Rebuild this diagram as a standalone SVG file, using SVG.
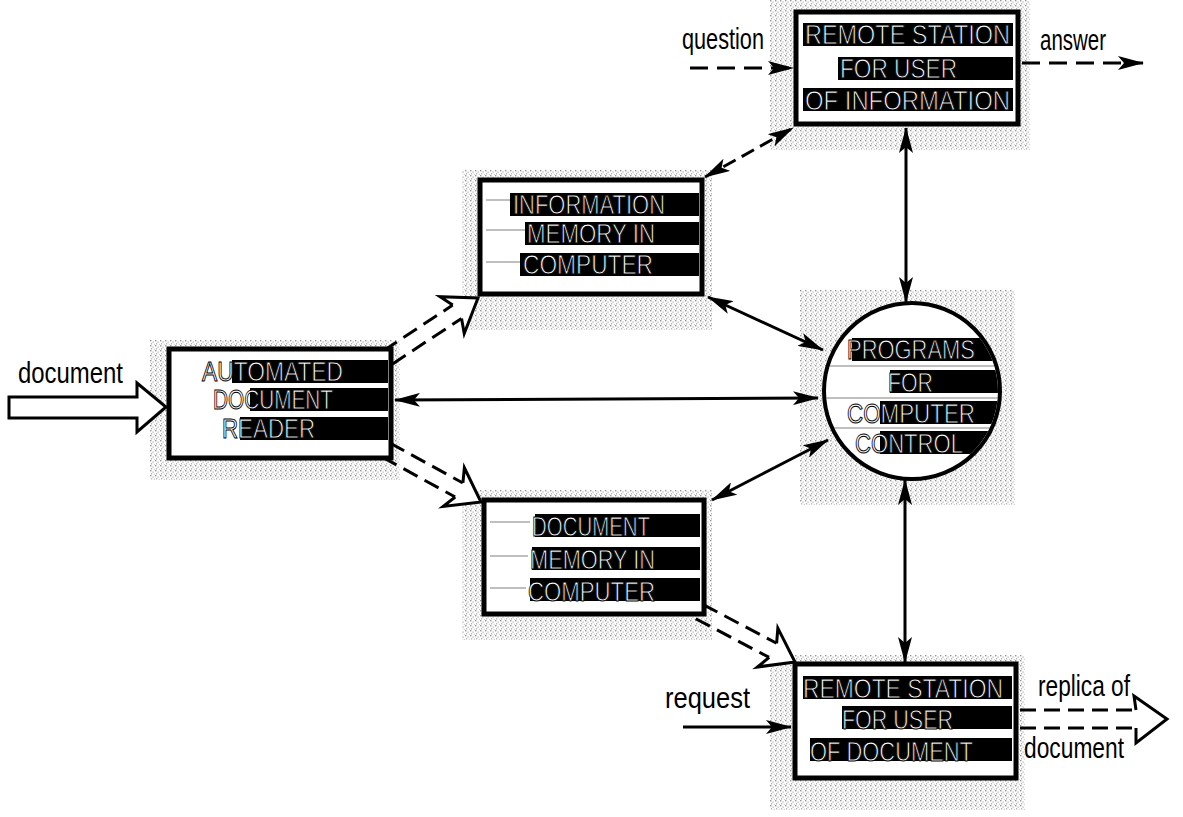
<svg xmlns="http://www.w3.org/2000/svg" width="1183" height="817" viewBox="0 0 1183 817">
<style>
.box{fill:#fff;stroke:#000;stroke-width:5}
.band{fill:#000}
.bt{font-family:"Liberation Sans",Arial,sans-serif;font-size:28px;fill:#fff;stroke:#000;stroke-width:1}
.lb{font-family:"Liberation Sans",Arial,sans-serif;font-size:30px;fill:#000}
.sol{stroke:#000;stroke-width:3;fill:none}
.dsh{stroke:#000;stroke-width:3;fill:none;stroke-dasharray:18 9}
.halo{fill:url(#dots)}
.stripe{stroke:#aaa;stroke-width:1.5}
</style>
<defs>
<pattern id="dots" width="5" height="5" patternUnits="userSpaceOnUse">
<rect x="0" y="0" width="1.4" height="1.4" fill="#888"/>
<rect x="2.5" y="1.5" width="1.2" height="1.2" fill="#a0a0a0"/>
<rect x="1" y="3.2" width="1.2" height="1.2" fill="#999"/>
<rect x="3.8" y="3.8" width="1" height="1" fill="#b0b0b0"/>
</pattern>
<marker id="ah" viewBox="0 0 26 14" refX="25" refY="7" markerWidth="26" markerHeight="14" markerUnits="userSpaceOnUse" orient="auto-start-reverse">
<path d="M0,0 L26,7 L0,14 L6,7 z" fill="#000"/>
</marker>
<g id="hollow">
<path class="dsh" d="M-108,-8 L-25,-8 M-108,8 L-25,8" style="stroke-dasharray:16 8"/>
<path d="M-25,-8 L-31,-22 L0,0 L-31,22 L-25,8" fill="#fff" stroke="#000" stroke-width="3" stroke-linejoin="miter"/>
</g>
<clipPath id="cc"><circle cx="912" cy="391" r="86"/></clipPath>
</defs>
<rect width="1183" height="817" fill="#fff"/>

<g id="halos" opacity="0.9">
<rect class="halo" x="770" y="0" width="260" height="150"/>
<rect class="halo" x="462" y="170" width="250" height="160"/>
<rect class="halo" x="150" y="340" width="250" height="140"/>
<rect class="halo" x="800" y="290" width="215" height="215"/>
<rect class="halo" x="462" y="490" width="250" height="150"/>
<rect class="halo" x="770" y="655" width="255" height="155"/>
</g>

<g id="connectors">
<line class="sol" x1="395" y1="400" x2="818" y2="398" marker-start="url(#ah)" marker-end="url(#ah)"/>
<line class="sol" x1="708" y1="297" x2="823" y2="350" marker-start="url(#ah)" marker-end="url(#ah)"/>
<line class="sol" x1="712" y1="500" x2="828" y2="440" marker-start="url(#ah)" marker-end="url(#ah)"/>
<line class="dsh" x1="705" y1="177" x2="793" y2="128" marker-start="url(#ah)" marker-end="url(#ah)" style="stroke-dasharray:14 7"/>
<line class="sol" x1="906" y1="128" x2="906" y2="302" marker-start="url(#ah)" marker-end="url(#ah)"/>
<line class="sol" x1="905" y1="480" x2="905" y2="662" marker-start="url(#ah)" marker-end="url(#ah)"/>
<line class="dsh" x1="690" y1="68" x2="793" y2="68" marker-end="url(#ah)"/>
<line class="dsh" x1="1022" y1="63" x2="1143" y2="63" marker-end="url(#ah)"/>
<line class="sol" x1="683" y1="727" x2="791" y2="727" marker-end="url(#ah)"/>
<polygon points="9,397 137,397 137,383 166,407 137,432 137,418 9,418" fill="#fff" stroke="#000" stroke-width="3"/>
<use href="#hollow" transform="translate(478,298) rotate(-33.4)"/>
<use href="#hollow" transform="translate(481,502) rotate(28.7)"/>
<use href="#hollow" transform="translate(795,662) rotate(27.8)"/>
<path class="dsh" d="M1020,710 L1136,710 M1020,728 L1136,728" style="stroke-dasharray:16 8"/>
<path d="M1136,710 L1134,696 L1167,719 L1136,743 L1136,728" fill="#fff" stroke="#000" stroke-width="3"/>
</g>

<g id="labels">
<text class="lb" x="18" y="383" textLength="105" lengthAdjust="spacingAndGlyphs">document</text>
<text class="lb" x="682" y="49" textLength="82" lengthAdjust="spacingAndGlyphs">question</text>
<text class="lb" x="1040" y="50" textLength="66" lengthAdjust="spacingAndGlyphs">answer</text>
<text class="lb" x="1038" y="696" textLength="92" lengthAdjust="spacingAndGlyphs">replica of</text>
<text class="lb" x="665" y="708" textLength="85" lengthAdjust="spacingAndGlyphs">request</text>
<text class="lb" x="1024" y="758" textLength="100" lengthAdjust="spacingAndGlyphs">document</text>
</g>

<g id="node-remote-info">
<rect class="box" x="796" y="12" width="222" height="112"/>
<rect class="band" x="803" y="23" width="210" height="23"/>
<rect class="band" x="838" y="57" width="175" height="23"/>
<rect class="band" x="803" y="88" width="210" height="23"/>
<text class="bt" x="805" y="44" textLength="205" lengthAdjust="spacingAndGlyphs">REMOTE STATION</text>
<text class="bt" x="840" y="78" textLength="117" lengthAdjust="spacingAndGlyphs">FOR USER</text>
<text class="bt" x="805" y="110" textLength="205" lengthAdjust="spacingAndGlyphs">OF INFORMATION</text>
</g>

<g id="node-info-memory">
<rect class="box" x="480" y="180" width="222" height="114"/>
<line class="stripe" x1="486" y1="200" x2="512" y2="200"/>
<line class="stripe" x1="486" y1="230" x2="525" y2="230"/>
<line class="stripe" x1="486" y1="262" x2="520" y2="262"/>
<rect class="band" x="510" y="193" width="189" height="23"/>
<rect class="band" x="525" y="222" width="174" height="23"/>
<rect class="band" x="520" y="253" width="179" height="23"/>
<text class="bt" x="513" y="214" textLength="152" lengthAdjust="spacingAndGlyphs">INFORMATION</text>
<text class="bt" x="527" y="243" textLength="128" lengthAdjust="spacingAndGlyphs">MEMORY IN</text>
<text class="bt" x="523" y="274" textLength="130" lengthAdjust="spacingAndGlyphs">COMPUTER</text>
</g>

<g id="node-reader">
<rect class="box" x="169" y="349" width="222" height="109"/>
<rect class="band" x="232" y="360" width="156" height="23"/>
<rect class="band" x="250" y="388" width="138" height="23"/>
<rect class="band" x="240" y="417" width="148" height="23"/>
<text class="bt" x="202" y="381" textLength="141" lengthAdjust="spacingAndGlyphs">AUTOMATED</text>
<text class="bt" x="213" y="409" textLength="120" lengthAdjust="spacingAndGlyphs">DOCUMENT</text>
<text class="bt" x="222" y="438" textLength="93" lengthAdjust="spacingAndGlyphs">READER</text>
</g>

<g id="node-programs">
<circle cx="912" cy="391" r="88" fill="#fff"/>
<g clip-path="url(#cc)">
<line class="stripe" x1="825" y1="366" x2="1000" y2="366"/>
<line class="stripe" x1="825" y1="398" x2="1000" y2="398"/>
<line class="stripe" x1="825" y1="428" x2="1000" y2="428"/>
<rect class="band" x="852" y="338" width="160" height="23"/>
<rect class="band" x="890" y="370" width="120" height="23"/>
<rect class="band" x="880" y="401" width="130" height="23"/>
<rect class="band" x="880" y="431" width="130" height="23"/>
</g>
<circle cx="912" cy="391" r="88" fill="none" stroke="#000" stroke-width="4"/>
<text class="bt" x="847" y="359" textLength="128" lengthAdjust="spacingAndGlyphs">PROGRAMS</text>
<text class="bt" x="888" y="392" textLength="45" lengthAdjust="spacingAndGlyphs">FOR</text>
<text class="bt" x="847" y="423" textLength="128" lengthAdjust="spacingAndGlyphs">COMPUTER</text>
<text class="bt" x="855" y="453" textLength="108" lengthAdjust="spacingAndGlyphs">CONTROL</text>
</g>

<g id="node-doc-memory">
<rect class="box" x="484" y="500" width="220" height="114"/>
<line class="stripe" x1="490" y1="522" x2="530" y2="522"/>
<line class="stripe" x1="490" y1="556" x2="528" y2="556"/>
<line class="stripe" x1="490" y1="588" x2="526" y2="588"/>
<rect class="band" x="535" y="514" width="165" height="23"/>
<rect class="band" x="532" y="547" width="168" height="23"/>
<rect class="band" x="530" y="578" width="170" height="23"/>
<text class="bt" x="532" y="536" textLength="118" lengthAdjust="spacingAndGlyphs">DOCUMENT</text>
<text class="bt" x="530" y="569" textLength="125" lengthAdjust="spacingAndGlyphs">MEMORY IN</text>
<text class="bt" x="528" y="601" textLength="127" lengthAdjust="spacingAndGlyphs">COMPUTER</text>
</g>

<g id="node-remote-doc">
<rect class="box" x="795" y="664" width="221" height="114"/>
<rect class="band" x="803" y="676" width="209" height="23"/>
<rect class="band" x="842" y="706" width="170" height="23"/>
<rect class="band" x="810" y="738" width="202" height="23"/>
<text class="bt" x="803" y="698" textLength="200" lengthAdjust="spacingAndGlyphs">REMOTE STATION</text>
<text class="bt" x="842" y="729" textLength="111" lengthAdjust="spacingAndGlyphs">FOR USER</text>
<text class="bt" x="810" y="761" textLength="163" lengthAdjust="spacingAndGlyphs">OF DOCUMENT</text>
</g>
</svg>
